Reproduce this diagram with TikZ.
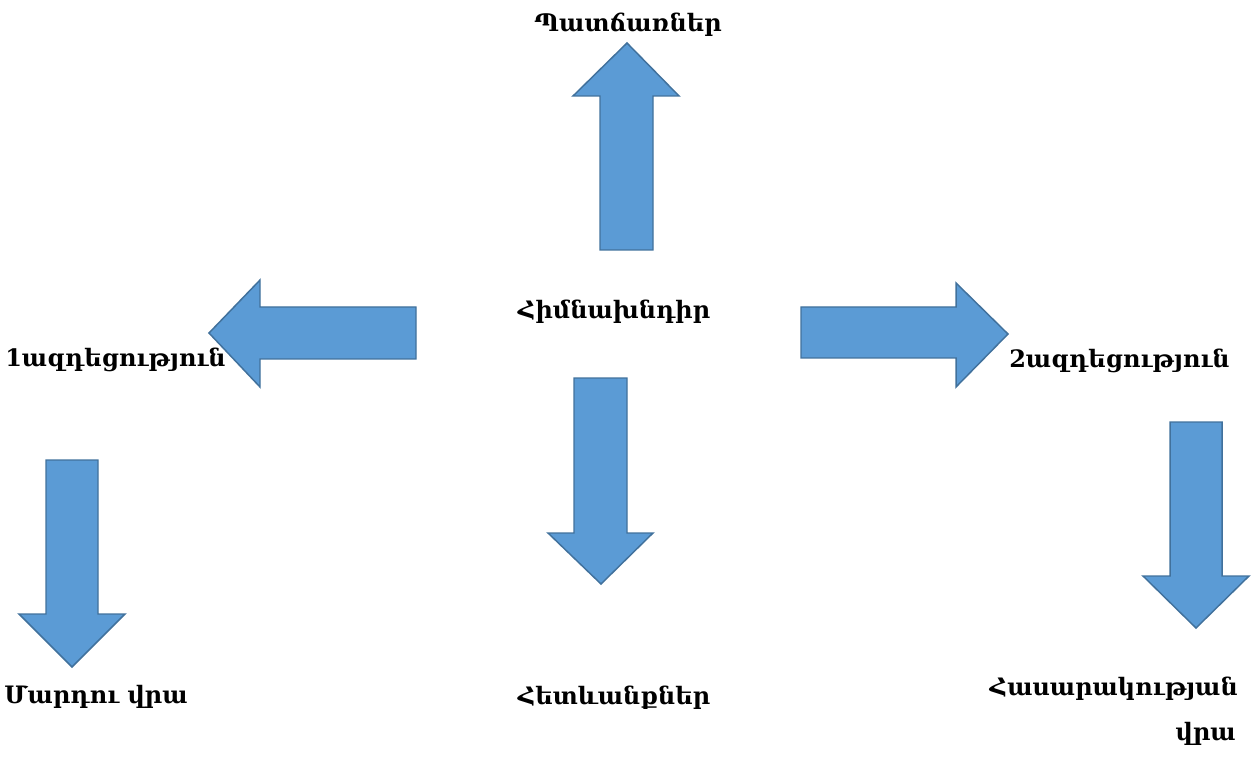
\documentclass[tikz,border=0pt]{standalone}
\usepackage{fontspec}
\setmainfont{DejaVu Serif}
\begin{document}
\begin{tikzpicture}[x=0.75pt,y=-0.75pt,
  bigarrow/.style={fill={rgb,255:red,91;green,155;blue,213},draw={rgb,255:red,65;green,113;blue,156},line width=1.1pt,line join=miter},
  lbl/.style={anchor=base,inner sep=0pt,font=\bfseries\fontsize{18}{21}\selectfont}]
\useasboundingbox (0,0) rectangle (1251,762);
% up arrow
\draw[bigarrow] (600,250) -- (600,96) -- (573,96) -- (627,43) -- (679,96) -- (653,96) -- (653,250) -- cycle;
% left arrow
\draw[bigarrow] (416,307) -- (260,307) -- (260,280) -- (209,333) -- (260,387) -- (260,359) -- (416,359) -- cycle;
% right arrow
\draw[bigarrow] (801,307) -- (956,307) -- (956,283) -- (1008,334) -- (956,387) -- (956,358) -- (801,358) -- cycle;
% left down arrow
\draw[bigarrow] (46,460) -- (98,460) -- (98,614) -- (125,614) -- (72,667) -- (19,614) -- (46,614) -- cycle;
% center down arrow
\draw[bigarrow] (574,378) -- (627,378) -- (627,533) -- (653,533) -- (601,584) -- (548,533) -- (574,533) -- cycle;
% right down arrow
\draw[bigarrow] (1170,422) -- (1222,422) -- (1222,576) -- (1249,576) -- (1196,628) -- (1143,576) -- (1170,576) -- cycle;
% labels
\node[lbl] (causes) at (628,32) {Պատճառներ};
\node[lbl] (problem) at (614,319) {Հիմնախնդիր};
\node[lbl,anchor=base west] (eff1) at (5,367) {1ազդեցություն};
\node[lbl,anchor=base west] (eff2) at (1009,368) {2ազդեցություն};
\node[lbl,anchor=base west] (person) at (4,703) {Մարդու վրա};
\node[lbl] (conseq) at (614,704) {Հետևանքներ};
\node[lbl,anchor=base east] (society) at (1238,695) {Հասարակության};
\node[lbl,anchor=base east] (society2) at (1236,740) {վրա};
\end{tikzpicture}
\end{document}
